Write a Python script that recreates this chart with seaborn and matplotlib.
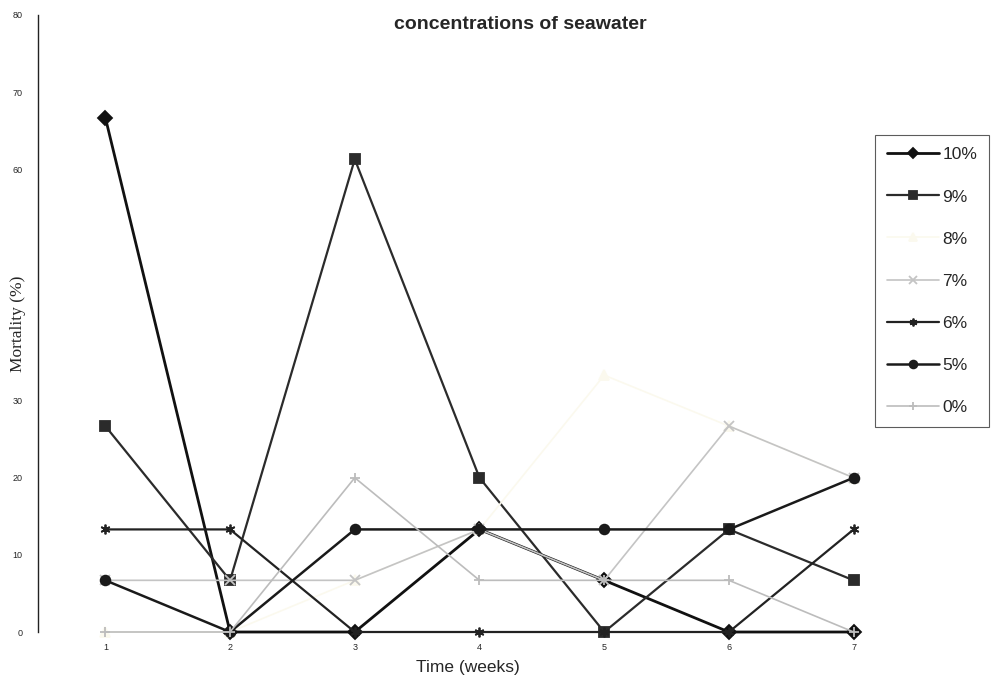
import numpy as np
import pandas as pd
import matplotlib
matplotlib.use("Agg")
import matplotlib.pyplot as plt
import seaborn as sns

weeks = [1, 2, 3, 4, 5, 6, 7]
s10 = [66.7, 0, 0, 13.3, 6.7, 0, 0]
s9 = [26.7, 6.7, 61.3, 20, 0, 13.3, 6.7]
s8 = [0, 0, 6.7, 13.3, 33.3, 26.7, 20]
s7 = [6.7, 6.7, 6.7, 13.3, 6.7, 26.7, 20]
s6 = [13.3, 13.3, 0, 0, 0, 0, 13.3]
s5 = [6.7, 0, 13.3, 13.3, 13.3, 13.3, 20]
s0 = [0, 0, 20, 6.7, 6.7, 6.7, 0]
labels = ["10%", "9%", "8%", "7%", "6%", "5%", "0%"]
yticks = [0, 10, 20, 30, 40, 50, 60, 70, 80]
ytick_labels = ["0", "10", "20", "30", "", "", "60", "70", "80"]

series = [s10, s9, s8, s7, s6, s5, s0]
colors = ["#111111", "#2b2b2b", "#fbf9ee", "#c4c4c4", "#222222", "#1a1a1a", "#bcbcbc"]
markers = ["D", "s", "^", "x", (6, 2, 0), "o", "+"]
lws = [2.0, 1.6, 1.2, 1.2, 1.6, 1.8, 1.2]

sns.set_style("white")
plt.rcParams['font.family'] = ['Liberation Sans', 'DejaVu Sans']

fig = plt.figure(figsize=(9.94, 6.86), dpi=100)
ax = fig.add_axes([38/994, 54/686, 878/994, 617/686])

df = pd.DataFrame({
    "week": weeks * len(series),
    "val": sum(series, []),
    "conc": sum([[l] * len(weeks) for l in labels], []),
})

for lab, c, m, lw in zip(labels, colors, markers, lws):
    sub = df[df["conc"] == lab]
    sns.lineplot(data=sub, x="week", y="val", ax=ax, color=c, marker=m,
                 markersize=7, markeredgecolor=c, markerfacecolor=c,
                 markeredgewidth=1.3, linewidth=lw, label=lab, clip_on=False,
                 zorder=3)

ax.set_xlim(0.46, 7.5)
ax.set_ylim(0, 80)
ax.set_yticks(yticks)
ax.set_yticklabels(ytick_labels, fontsize=6.5)
ax.set_xticks(weeks)
ax.set_xticklabels([str(w) for w in weeks], fontsize=6.5)
ax.tick_params(axis='y', length=3, width=0.8, pad=8, color='#333333')
ax.tick_params(axis='x', length=0, pad=8)
for sp in ["top", "right", "bottom"]:
    ax.spines[sp].set_visible(False)
ax.spines["left"].set_color("#222222")
ax.spines["left"].set_linewidth(1.0)

ax.set_xlabel("Time (weeks)", fontsize=12.5, labelpad=4)
ax.xaxis.set_label_coords(0.49, -0.045)
ax.set_ylabel("Mortality (%)", fontsize=12.5, family=['Liberation Serif', 'DejaVu Serif'])
ax.yaxis.set_label_coords(-0.014, 0.5)

fig.text(0.523, 0.965, "concentrations of seawater", ha="center", va="center",
         fontsize=14, fontweight="bold")

h, l = ax.get_legend_handles_labels()
if ax.legend_:
    ax.legend_.remove()
leg = fig.legend(h, l, loc="upper left", bbox_to_anchor=(0.880, 0.803),
                 fontsize=12.5, frameon=True, fancybox=False, edgecolor="#333333",
                 labelspacing=1.55, handlelength=3.0, handletextpad=0.2,
                 borderpad=0.7, borderaxespad=0, markerscale=0.8)
leg.get_frame().set_linewidth(0.8)

fig.savefig("out.png", dpi=100, facecolor="white")
